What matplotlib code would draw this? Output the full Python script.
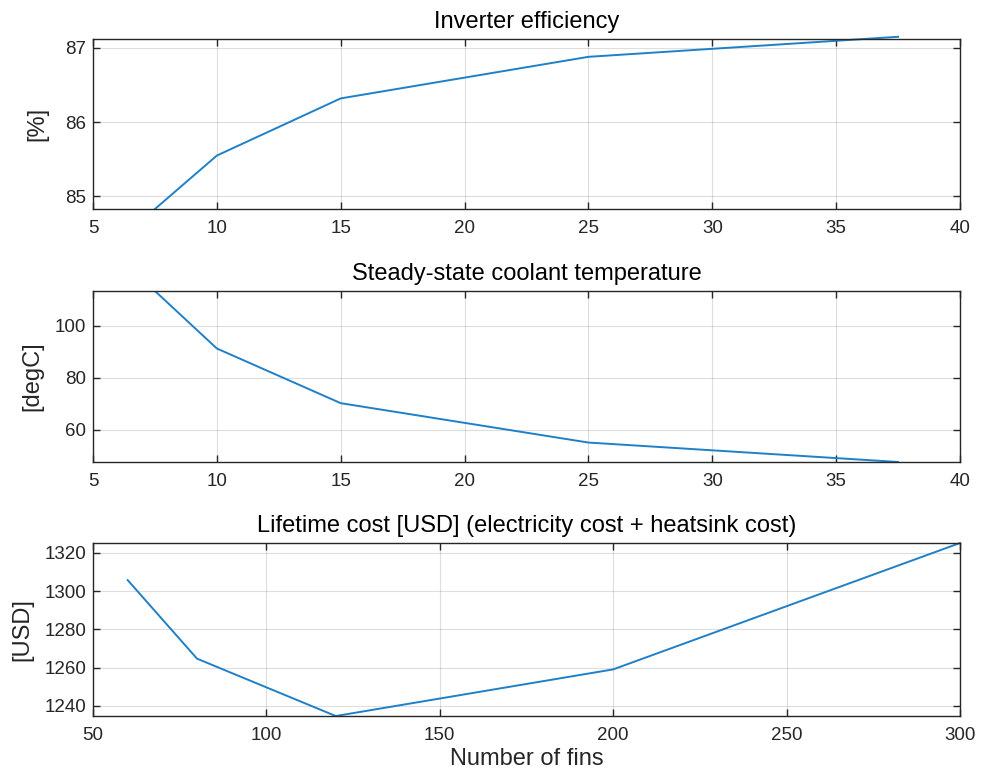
import matplotlib
matplotlib.use("Agg")
import matplotlib.pyplot as plt
import numpy as np

plt.rcParams['font.family'] = ['Liberation Sans', 'DejaVu Sans']

# number of fins and the matching x used in the upper two panels
fins = [60, 80, 120, 200, 300]
fin_x = [7.5, 10, 15, 25, 37.5]

efficiency = [84.83, 85.55, 86.32, 86.88, 87.15]
coolant_temp = [113.5, 91.3, 70.2, 55.0, 47.5]
lifetime_cost = [1305.8, 1264.7, 1234.7, 1259.1, 1325.2]

LINE = '#1f80c8'
AXC = '#262626'
LABEL_FS = 17

fig = plt.figure(figsize=(9.82, 7.71), dpi=100)
fig.patch.set_facecolor('white')

left, width = 0.0947, 0.8829
boxes = [(0.7289, 0.2205), (0.4008, 0.2218), (0.0713, 0.2244)]
axes = [fig.add_axes([left, b, width, h]) for b, h in boxes]


def style(ax):
    for s in ax.spines.values():
        s.set_color(AXC)
        s.set_linewidth(1.0)
    ax.tick_params(direction='in', length=5, width=1.0, colors=AXC,
                   labelsize=13.5, top=True, right=True)
    ax.tick_params(axis='x', pad=8)
    ax.tick_params(axis='y', pad=5)
    ax.grid(True, color='#000000', alpha=0.13, linewidth=0.8)
    ax.set_axisbelow(True)


ax = axes[0]
ax.plot(fin_x, efficiency, color=LINE, lw=1.4, clip_on=False)
ax.set_xlim(5, 40)
ax.set_ylim(84.83, 87.12)
ax.set_yticks([85, 86, 87])
ax.set_xticks(np.arange(5, 41, 5))
ax.set_title('Inverter efficiency', fontsize=LABEL_FS, color='#000000', pad=8)
ax.set_ylabel('[%]', fontsize=LABEL_FS, color=AXC)
style(ax)

ax = axes[1]
ax.plot(fin_x, coolant_temp, color=LINE, lw=1.4)
ax.set_xlim(5, 40)
ax.set_ylim(47.5, 113.5)
ax.set_yticks([60, 80, 100])
ax.set_xticks(np.arange(5, 41, 5))
ax.set_title('Steady-state coolant temperature', fontsize=LABEL_FS, color='#000000', pad=8)
ax.set_ylabel('[degC]', fontsize=LABEL_FS, color=AXC)
style(ax)

ax = axes[2]
ax.plot(fins, lifetime_cost, color=LINE, lw=1.4, clip_on=False)
ax.set_xlim(50, 300)
ax.set_ylim(1234.7, 1325.2)
ax.set_yticks([1240, 1260, 1280, 1300, 1320])
ax.set_xticks(np.arange(50, 301, 50))
ax.set_title('Lifetime cost [USD] (electricity cost + heatsink cost)',
             fontsize=LABEL_FS, color='#000000', pad=8)
ax.set_ylabel('[USD]', fontsize=LABEL_FS, color=AXC)
ax.set_xlabel('Number of fins', fontsize=LABEL_FS, color=AXC, labelpad=3)
style(ax)

# ylabel offsets follow the tick label widths, like MATLAB
for ax, off in zip(axes, [-0.052, -0.057, -0.069]):
    ax.yaxis.set_label_coords(off, 0.5)

fig.savefig('out.png', dpi=100, facecolor='white')
